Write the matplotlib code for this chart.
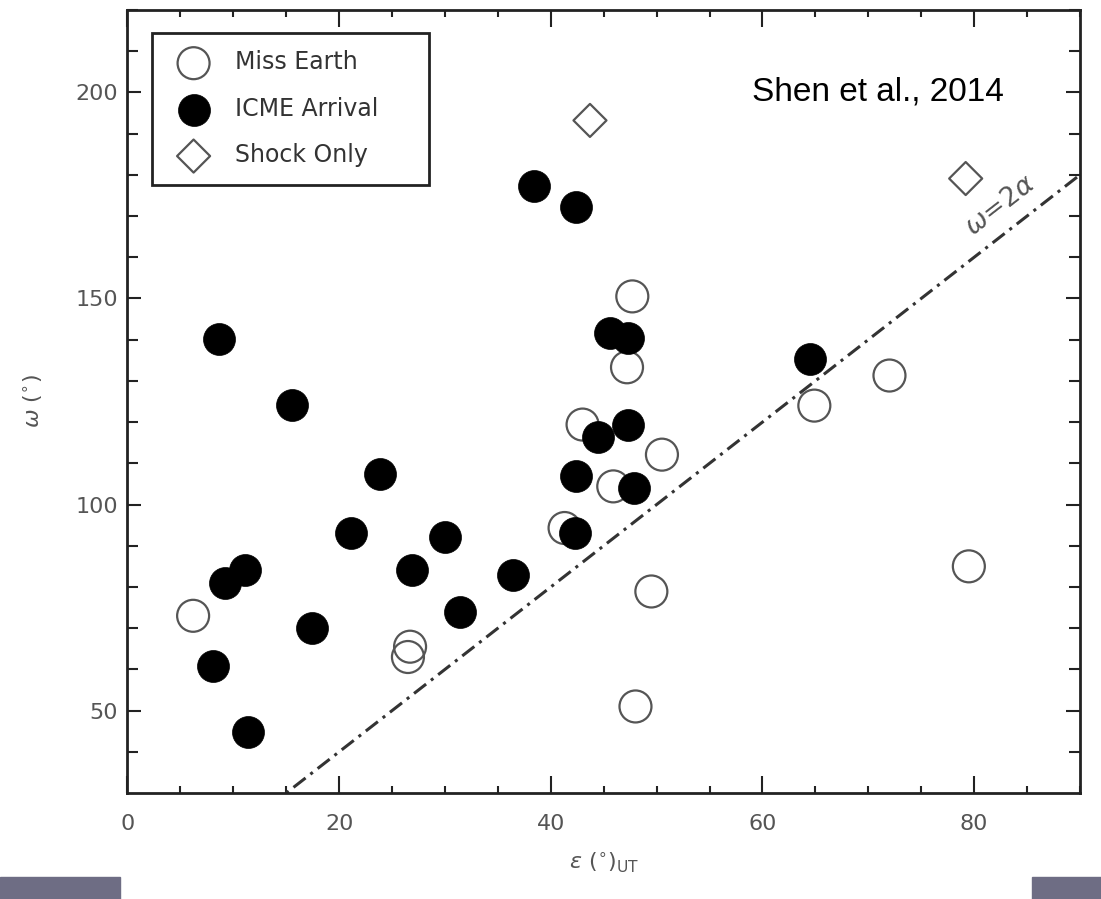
import numpy as np
import matplotlib.pyplot as plt
from matplotlib.patches import Rectangle

# CME events: angular separation eps (deg) vs angular width omega (deg)
miss_eps = [6.2, 26.7, 26.5, 41.3, 43.0, 50.5, 45.9, 49.5, 48.0, 47.7, 47.2, 64.9, 72.0, 79.5]
miss_omega = [73, 65.5, 63, 94.3, 119.4, 112.1, 104.4, 78.9, 51, 150.5, 133.3, 124, 131.3, 85]

icme_eps = [8.6, 15.5, 23.9, 21.1, 30.0, 11.1, 9.2, 26.9, 31.4, 17.4, 8.1, 11.4,
            36.4, 42.3, 44.5, 47.3, 42.4, 47.9, 45.6, 47.3, 38.4, 42.4, 64.5]
icme_omega = [140.2, 124.2, 107.3, 93.1, 92.2, 84.1, 81.0, 84.1, 74.0, 70.1, 60.9, 44.8,
              83.0, 93.2, 116.3, 119.4, 107.0, 104.1, 141.7, 140.5, 177.2, 172.3, 135.4]

shock_eps = [43.7, 79.2]
shock_omega = [193.2, 179.1]

# reference line omega = 2 * alpha
line_eps = np.array([0, 90])
line_omega = 2 * line_eps

fig = plt.figure(figsize=(11.01, 8.99), dpi=100)
ax = fig.add_axes([0.1158, 0.1179, 0.8651, 0.871])

grey = '#555555'

ax.plot(line_eps, line_omega, color='#333333', lw=2.2, linestyle=(0, (5, 2, 1, 2)))
ax.scatter(miss_eps, miss_omega, s=530, facecolors='none', edgecolors=grey,
           linewidths=1.6, label='Miss Earth', zorder=3)
ax.scatter(icme_eps, icme_omega, s=530, facecolors='black', edgecolors='black',
           linewidths=0.5, label='ICME Arrival', zorder=3)
ax.scatter(shock_eps, shock_omega, s=283, marker='D', facecolors='none',
           edgecolors=grey, linewidths=1.6, label='Shock Only', zorder=3)

ax.set_xlim(0, 90)
ax.set_ylim(30, 220)
ax.set_xticks([0, 20, 40, 60, 80])
ax.set_xticks(np.arange(0, 91, 5), minor=True)
ax.set_yticks([50, 100, 150, 200])
ax.set_yticks(np.arange(40, 221, 10), minor=True)

ax.tick_params(axis='both', which='both', direction='in', top=True, right=True,
               width=1.5, color='#222222', labelcolor=grey, labelsize=16)
ax.tick_params(axis='x', which='major', length=12, pad=15)
ax.tick_params(axis='x', which='minor', length=5)
ax.tick_params(axis='y', which='major', length=10, pad=7)
ax.tick_params(axis='y', which='minor', length=8)
for sp in ax.spines.values():
    sp.set_linewidth(2)
    sp.set_color('#222222')

ax.set_xlabel(r'$\epsilon\ (^{\circ})_{\rm UT}$', color=grey, fontsize=16, labelpad=12)
ax.set_ylabel(r'$\omega\ (^{\circ})$', color=grey, fontsize=16, labelpad=22)

ax.text(82.5, 172.5, r'$\omega\!=\!2\alpha$', color=grey, fontsize=19,
        rotation=np.degrees(np.arctan(2)), transform_rotates_text=True,
        rotation_mode='anchor', ha='center', va='center')

ax.text(59.0, 200, 'Shen et al., 2014', fontsize=24, family='Liberation Sans',
        color='black', va='center', ha='left')

leg = ax.legend(loc='upper left', bbox_to_anchor=(0.026, 0.5, 0.291, 0.471),
                mode='expand', borderaxespad=0,
                scatterpoints=1, fancybox=False, framealpha=1, fontsize=17,
                labelspacing=0.95, handletextpad=0.75, borderpad=0.75)
leg.get_frame().set_edgecolor('#222222')
leg.get_frame().set_linewidth(2)
for t in leg.get_texts():
    t.set_color('#333333')

# slide footer bars
fig.add_artist(Rectangle((0, 0), 120 / 1101, 22 / 899, transform=fig.transFigure,
                         color='#6e6d84'))
fig.add_artist(Rectangle((1032 / 1101, 0), 69 / 1101, 22 / 899, transform=fig.transFigure,
                         color='#6e6d84'))

fig.savefig('out.png', dpi=100)
